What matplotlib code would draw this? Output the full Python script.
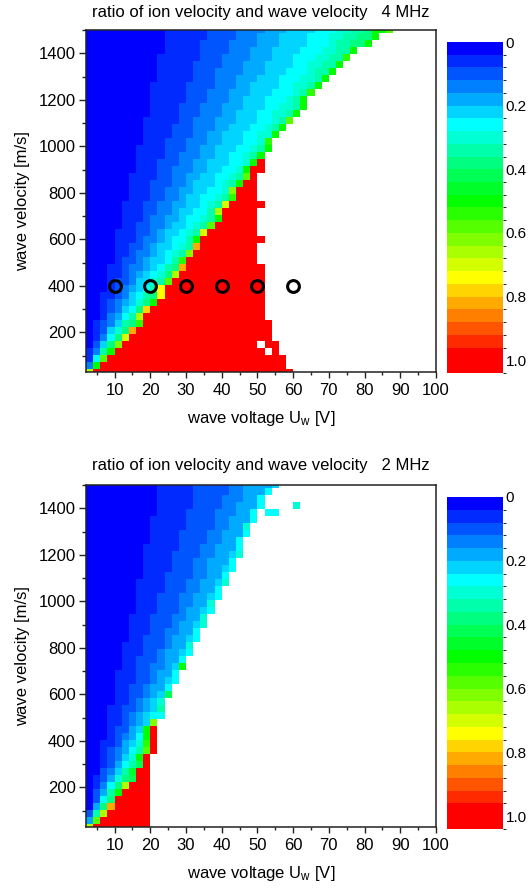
import numpy as np
import matplotlib
matplotlib.use("Agg")
import matplotlib.pyplot as plt
from matplotlib.colors import ListedColormap, BoundaryNorm
from matplotlib.ticker import MultipleLocator, FixedLocator

plt.rcParams['font.family'] = ['Liberation Sans', 'DejaVu Sans']
plt.rcParams['mathtext.fontset'] = 'custom'
plt.rcParams['mathtext.rm'] = 'Liberation Sans'
plt.rcParams['mathtext.it'] = 'Liberation Sans:italic'

# ---------------- grid ----------------
VOLTAGE_EDGES = list(range(2, 102, 2))      # wave voltage bins, V
VELOCITY = list(range(30, 1530, 30))        # wave velocity rows, m/s
LEVEL_STEP = 0.04                           # colour level width of the ratio

# colour levels 0..24 (+ top red band)
LEVEL_COLOURS = ['#0000ff', '#002aff', '#0055ff', '#0080ff', '#00aaff', '#00d4ff',
                 '#00ffff', '#00ffd4', '#00ffaa', '#00ff80', '#00ff55', '#00ff2a',
                 '#00ff00', '#2aff00', '#55ff00', '#80ff00', '#aaff00', '#d4ff00',
                 '#ffff00', '#ffd400', '#ffaa00', '#ff8000', '#ff5500', '#ff2a00',
                 '#ff0000', '#ff0000']
CBAR_TICKS = [0, 0.2, 0.4, 0.6, 0.8, 1.0]
CBAR_LABELS = ['0', '0.2', '0.4', '0.6', '0.8', '1.0']

# ---------------- 4 MHz : first column of each colour level per velocity row ----------------
TOP_L1 = [0,0,0,0,1,1,1,1,2,2,2,2,3,3,3,3,4,4,4,4,4,5,5,5,5,6,6,6,6,7,7,7,7,8,8,8,8,9,9,9,9,9,10,10,10,10,11,11,11,11]
TOP_L2 = [0,0,1,1,1,2,2,2,3,3,3,4,4,4,5,5,5,6,6,7,7,7,8,8,8,9,9,9,10,10,10,11,11,11,12,12,13,13,13,14,14,14,15,15,15,16,16,16,17,17]
TOP_L3 = [0,0,1,1,2,2,3,3,3,4,4,5,5,6,6,6,7,7,8,8,9,9,9,10,10,11,11,12,12,12,13,13,14,14,15,15,15,16,16,17,17,18,18,18,19,19,20,20,21,21]
TOP_L4 = [0,1,1,2,2,3,3,4,4,5,5,6,6,7,7,8,8,9,9,10,10,11,11,12,12,13,13,14,14,15,15,16,16,17,17,18,18,19,19,20,20,21,21,22,22,23,23,24,24,25]
TOP_L5 = [0,1,1,2,2,3,3,4,5,5,6,6,7,7,8,9,9,10,10,11,11,12,13,13,14,14,15,15,16,17,17,18,18,19,19,20,21,21,22,22,23,23,24,25,25,26,26,27,27,28]
TOP_L6 = [0,1,1,2,3,3,4,5,5,6,7,7,8,9,9,10,11,11,12,12,13,14,14,15,16,16,17,18,18,19,20,20,21,22,22,23,24,24,25,25,26,27,27,28,29,29,30,31,31,32]
TOP_L7 = [0,1,2,2,3,4,4,5,6,7,7,8,9,9,10,11,12,12,13,14,14,15,16,17,17,18,19,19,20,21,22,22,23,24,24,25,26,26,27,28,29,29,30,31,31,32,33,34,34,35]
TOP_L8 = [0,1,2,2,3,4,5,5,6,7,8,8,9,10,11,11,12,13,14,14,15,16,17,17,18,19,20,20,21,22,23,23,24,25,26,26,27,28,29,29,30,31,32,32,33,34,35,35,36,37]
TOP_L9 = [0,1,2,3,3,4,5,6,7,7,8,9,10,11,11,12,13,14,15,15,16,17,18,18,19,20,21,22,22,23,24,25,26,26,27,28,29,30,30,31,32,33,33,34,35,36,37,37,38,39]
TOP_RED_START = [1,2,3,4,5,6,7,8,8,9,10,11,11,12,13,14,14,15,16,16,17,18,19,19,20,21,21,22,23,23,24] + [None] * 19
TOP_LAST_COL = [28,27,27,26,26,25,25,25,24,24,24,24,24,24,24,24,23,23,23,24,23,23,23,23,24,
                23,23,23,23,24,24,24,25,25,26,27,28,29,30,30,31,32,33,34,35,36,37,39,40,42]
TOP_EDGE_LEVEL = [16,12,14,12,15,17,20,13,16,19,12,18,18,14,16,20,13,15,20,12,17,14,12,16,17,
                  13,15,12,14,12,12,12,12,13,12,12,14,12,12,12,13,12,12,12,12,13,12,12,12,14]
TOP_EXTRA = [(49, 40, 12), (49, 41, 12)]
TOP_HOLES = [(4, 24), (3, 25)]
MARK_U = [10, 20, 30, 40, 50, 60]
MARK_V = [400, 400, 400, 400, 400, 400]

# ---------------- 2 MHz ----------------
BOT_L1 = [0,0,0,1,1,1,1,1,2,2,2,2,2,3,3,3,3,3,4,4,4,4,4,5,5,5,5,6,6,6,6,7,7,7,7,7,8,8,8,8,8,9,9,9,9,10,10,10,10,10]
BOT_L2 = [0,0,0,1,1,1,2,2,2,3,3,3,4,4,4,5,5,5,6,6,6,7,7,7,7,8,8,8,9,9,9,10,10,10,11,11,11,12,12,12,13,13,13,14,14,14,15,15,15,15]
BOT_L3 = [0,0,1,1,2,2,2,3,3,4,4,4,5,5,6,6,6,7,7,8,8,9,9,9,10,10,11,11,11,12,12,13,13,13,14,14,15,15,15,16,16,17,17,18,18,18,19,19,20,20]
BOT_L4 = [0,0,1,1,2,2,3,3,4,4,5,5,5,6,6,7,7,8,8,9,9,10,10,11,11,11,12,12,13,13,14,14,15,15,16,16,17,17,17,18,18,19,19,20,20,21,21,22,22,22]
BOT_L5 = [0,1,1,2,2,3,3,4,4,5,5,6,6,7,7,8,8,9,9,10,11,11,12,12,13,13,14,14,15,15,16,16,17,17,18,18,19,19,20,20,21,22,22,23,23,24,24,25,25,26]
BOT_L6 = [0,1,1,2,2,3,3,4,5,5,6,6,7,7,8,9,9,10,10,11,11,12,12,13,14,14,15,15,16,16,17,18,18,19,19,20,20,21,22,22,23,23,24,24,25,25,26,27,27,28]
BOT_L7 = [0,1,1,2,3,3,4,4,5,6,6,7,7,8,9,9,10,10,11,12,12,13,14,14,15,15,16,17,17,18,18,19,20,20,21,21,22,23,23,24,25,25,26,26,27,28,28,29,29,30]
BOT_L8 = [0,1,1,2,3,3,4,5,5,6,7,7,8,9,9,10,11,11,12,13,13,14,15,15,16,17,17,18,19,19,20,21,21,22,23,23,24,25,25,26,27,27,28,29,29,30,31,31,32,32]
BOT_L9 = [0,1,2,2,3,4,4,5,6,7,7,8,9,9,10,11,12,12,13,14,14,15,16,17,17,18,19,19,20,21,22,22,23,24,24,25,26,26,27,28,29,29,30,31,31,32,33,34,34,35]
BOT_RED_START = [1,2,3,4,4,5,6,7,7,8,8,9,9,9,9] + [None] * 35
BOT_LAST_COL = [8,8,8,8,8,8,8,8,8,8,8,9,9,9,9,9,10,10,10,11,11,12,12,13,13,
                14,14,15,15,16,16,17,17,18,18,19,19,20,20,21,21,21,22,22,23,23,24,24,25,26]
BOT_EDGE_LEVEL = [16,14,16,20,9,12,16,10,11,10,12,14,13,12,12,15,6,8,7,10,6,6,6,12,6,
                  6,7,6,6,7,7,6,7,6,6,7,6,6,6,7,6,6,6,7,6,6,6,6,6,5]
BOT_EXTRA = [(45, 25, 6), (45, 26, 6), (46, 29, 7)]
BOT_HOLES = []


def build(starts, red_start, last_col, edge_level, extra, holes):
    nrow, ncol = len(VELOCITY), len(VOLTAGE_EDGES) - 1
    lev = np.full((nrow, ncol), np.nan)
    for n in range(nrow):
        row = np.zeros(ncol)
        for level, st in enumerate(starts, start=1):
            row[st[n]:] = level
        rs = red_start[n]
        if rs is not None:
            row[rs:] = 24
            if rs >= 1:
                row[rs - 1] = edge_level[n]
        else:
            row[last_col[n]] = edge_level[n]
        row[last_col[n] + 1:] = np.nan
        lev[n] = row
    for n, j, level in extra:
        lev[n, j] = level
    for n, j in holes:
        lev[n, j] = np.nan
    return np.ma.masked_invalid((lev + 0.5) * LEVEL_STEP)


top_vals = build([TOP_L1, TOP_L2, TOP_L3, TOP_L4, TOP_L5, TOP_L6, TOP_L7, TOP_L8, TOP_L9],
                 TOP_RED_START, TOP_LAST_COL, TOP_EDGE_LEVEL, TOP_EXTRA, TOP_HOLES)
bot_vals = build([BOT_L1, BOT_L2, BOT_L3, BOT_L4, BOT_L5, BOT_L6, BOT_L7, BOT_L8, BOT_L9],
                 BOT_RED_START, BOT_LAST_COL, BOT_EDGE_LEVEL, BOT_EXTRA, BOT_HOLES)

cmap = ListedColormap(LEVEL_COLOURS)
cmap.set_bad((1, 1, 1, 0))
bounds = np.arange(len(LEVEL_COLOURS) + 1) * LEVEL_STEP
norm = BoundaryNorm(bounds, cmap.N)
vel_edges = [v - 15 for v in VELOCITY] + [VELOCITY[-1] + 15]

W, H = 528, 888
fig = plt.figure(figsize=(W / 100, H / 100), dpi=100)


def rect(x0, y0, x1, y1):
    return [x0 / W, 1 - y1 / H, (x1 - x0) / W, (y1 - y0) / H]


def panel(ax_r, cb_r, vals, title, title_y, markers=False):
    ax = fig.add_axes(rect(*ax_r))
    mesh = ax.pcolormesh(VOLTAGE_EDGES, vel_edges, vals, cmap=cmap, norm=norm,
                         shading='flat', edgecolors='none', antialiased=False)
    if markers:
        ax.plot(MARK_U, MARK_V, 'o', ms=8.5, mfc='none', mec='black', mew=2.2, zorder=5)
    ax.set_xlim(2, 100)
    ax.set_ylim(30, 1500)
    ax.xaxis.set_major_locator(FixedLocator(range(10, 101, 10)))
    ax.xaxis.set_minor_locator(MultipleLocator(5))
    ax.yaxis.set_major_locator(FixedLocator(range(200, 1401, 200)))
    ax.yaxis.set_minor_locator(MultipleLocator(100))
    ax.tick_params(which='both', direction='out', top=False, right=False,
                   labelsize=12, width=1.0, color='#222222')
    ax.tick_params(axis='y', which='major', length=5, pad=2.5)
    ax.tick_params(axis='y', which='minor', length=3)
    ax.tick_params(axis='x', which='major', length=4, pad=4)
    ax.tick_params(axis='x', which='minor', length=2.5)
    for sp in ax.spines.values():
        sp.set_linewidth(1.1)
        sp.set_color('#222222')
    ax.set_xlabel('wave voltage U$_{\\mathrm{w}}$ [V]', fontsize=12, labelpad=8)
    ax.set_ylabel('wave velocity [m/s]', fontsize=12, labelpad=6)
    fig.text((ax_r[0] + ax_r[2]) / 2 / W, 1 - title_y / H, title, ha='center',
             va='center', fontsize=12)

    cax = fig.add_axes(rect(*cb_r))
    cb = fig.colorbar(mesh, cax=cax, boundaries=bounds, ticks=CBAR_TICKS)
    cb.outline.set_visible(False)
    cax.set_ylim(bounds[-1], 0)
    cax.set_yticks(CBAR_TICKS)
    cax.set_yticklabels(CBAR_LABELS)
    cax.tick_params(length=0, labelsize=11, pad=2)
    return ax


panel((86, 30, 436, 372), (447, 42, 503, 373), top_vals,
      'ratio of ion velocity and wave velocity   4 MHz', 12, markers=True)
panel((86, 485, 436, 827), (447, 497, 503, 829), bot_vals,
      'ratio of ion velocity and wave velocity   2 MHz', 465)

fig.savefig('out.png', dpi=100)
